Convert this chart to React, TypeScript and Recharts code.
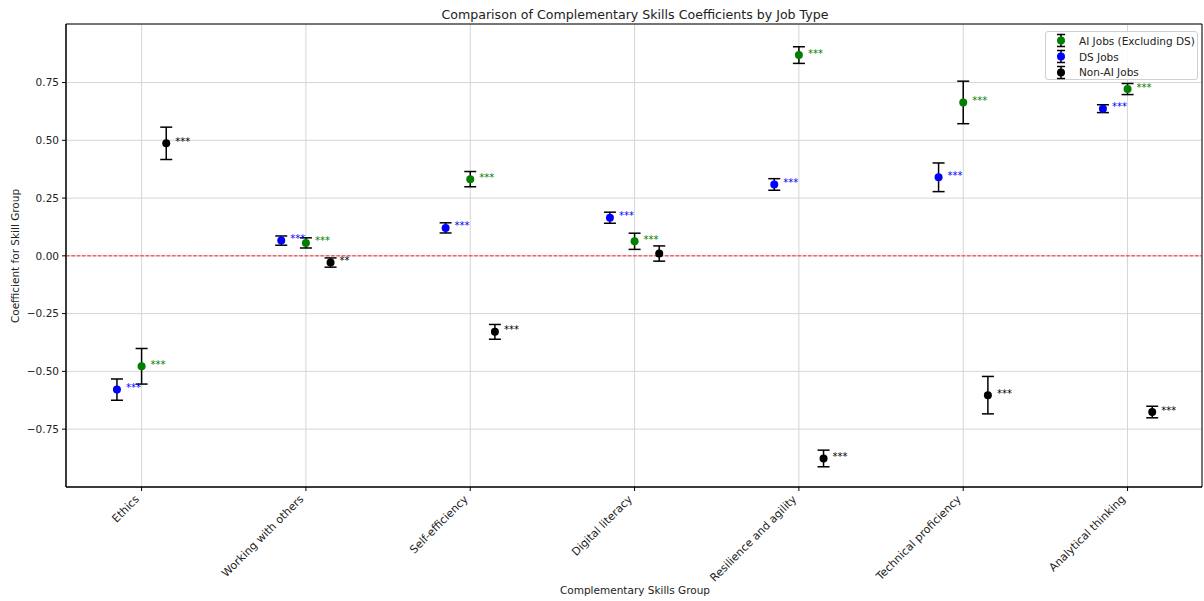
import {
  ScatterChart,
  Scatter,
  ErrorBar,
  XAxis,
  YAxis,
  CartesianGrid,
  ReferenceLine,
  ReferenceArea,
  Legend,
} from 'recharts';

const categories = [
  'Ethics',
  'Working with others',
  'Self-efficiency',
  'Digital literacy',
  'Resilience and agility',
  'Technical proficiency',
  'Analytical thinking',
];

// AI jobs (excluding DS)
const aiCoef = [-0.478, 0.056, 0.332, 0.063, 0.869, 0.664, 0.722];
const aiErr = [0.077, 0.022, 0.033, 0.035, 0.036, 0.092, 0.024];
const aiSig = ['***', '***', '***', '***', '***', '***', '***'];

// DS jobs
const dsCoef = [-0.579, 0.066, 0.121, 0.165, 0.309, 0.34, 0.637];
const dsErr = [0.046, 0.02, 0.022, 0.024, 0.025, 0.062, 0.017];
const dsSig = ['***', '***', '***', '***', '***', '***', '***'];

// Non-AI jobs
const nonAiCoef = [0.487, -0.029, -0.329, 0.01, -0.877, -0.603, -0.676];
const nonAiErr = [0.07, 0.02, 0.032, 0.033, 0.036, 0.081, 0.025];
const nonAiSig = ['***', '**', '***', '', '***', '***', '***'];

const yTicks = [-0.75, -0.5, -0.25, 0, 0.25, 0.5, 0.75];
const xTicks = categories.map((_, i) => i);

const X_DOMAIN: [number, number] = [-0.46, 6.453];
const Y_DOMAIN: [number, number] = [-1.0005, 1.0035];
const OFFSET = 0.15;

const build = (coef: number[], err: number[], sig: string[], shift: number) =>
  coef.map((y, i) => ({ x: i + shift, y, err: err[i], sig: sig[i] }));

const series = [
  { name: 'AI Jobs (Excluding DS)', color: '#008000', data: build(aiCoef, aiErr, aiSig, 0) },
  { name: 'DS Jobs', color: '#0000ff', data: build(dsCoef, dsErr, dsSig, -OFFSET) },
  { name: 'Non-AI Jobs', color: '#000000', data: build(nonAiCoef, nonAiErr, nonAiSig, OFFSET) },
];

const FONT = '"DejaVu Sans", sans-serif';

const CategoryTick = (props: any) => {
  const { x, y, payload } = props;
  const ax = x - 1.7;
  const ay = y + 6.8;
  return (
    <text
      x={ax}
      y={ay}
      transform={`rotate(-45 ${ax} ${ay})`}
      textAnchor="end"
      fontSize={11}
      fill="#222"
      fontFamily={FONT}
    >
      {categories[payload.value]}
    </text>
  );
};

const makeShape = (color: string) => (props: any) => {
  const { cx, cy, payload } = props;
  return (
    <g>
      <circle cx={cx} cy={cy} r={4} fill={color} />
      {payload.sig && (
        <text x={cx + 9} y={cy + 1.5} fontSize={10} fill={color} fontFamily={FONT}>
          {payload.sig}
        </text>
      )}
    </g>
  );
};

const LegendBox = () => (
  <div
    style={{
      width: 153,
      height: 49,
      boxSizing: 'border-box',
      border: '1px solid #d0d0d0',
      borderRadius: 3,
      background: 'rgba(255,255,255,0.85)',
      fontFamily: FONT,
      fontSize: 10.5,
      color: '#222',
      paddingTop: 1,
    }}
  >
    {series.map((s) => (
      <div key={s.name} style={{ display: 'flex', alignItems: 'center', height: 15.7 }}>
        <svg width={31} height={15} style={{ flexShrink: 0 }}>
          <line x1={15} x2={15} y1={1.5} y2={13.5} stroke="#000" strokeWidth={1.5} />
          <line x1={11} x2={19} y1={1.5} y2={1.5} stroke="#000" strokeWidth={1.5} />
          <line x1={11} x2={19} y1={13.5} y2={13.5} stroke="#000" strokeWidth={1.5} />
          <circle cx={15} cy={7.5} r={4} fill={s.color} />
        </svg>
        <span style={{ marginLeft: 2, whiteSpace: 'nowrap' }}>{s.name}</span>
      </div>
    ))}
  </div>
);

export default function App() {
  return (
    <div style={{ position: 'relative', width: 1204, height: 601, background: '#fff' }}>
      <style>{'body{margin:0;}'}</style>
      <ScatterChart
        width={1204}
        height={601}
        margin={{ top: 24, right: 2, bottom: 14, left: 0 }}
        style={{ fontFamily: FONT }}
      >
        <CartesianGrid stroke="#d6d6d6" strokeWidth={1} />
        <XAxis
          type="number"
          dataKey="x"
          domain={X_DOMAIN}
          ticks={xTicks}
          interval={0}
          allowDataOverflow
          height={100}
          tickSize={4}
          tickMargin={2}
          stroke="#000"
          tick={<CategoryTick />}
        />
        <YAxis
          type="number"
          dataKey="y"
          domain={Y_DOMAIN}
          ticks={yTicks}
          interval={0}
          allowDataOverflow
          width={66}
          tickSize={4}
          tickMargin={3}
          stroke="#000"
          tick={{ fontSize: 10.5, fill: '#222', fontFamily: FONT }}
          tickFormatter={(v: number) => v.toFixed(2).replace('-', '\u2212')}
        />
        <ReferenceLine y={0} stroke="#ff2020" strokeDasharray="3.7 1.6" strokeWidth={1} />
        <ReferenceArea
          x1={X_DOMAIN[0]}
          x2={X_DOMAIN[1]}
          y1={Y_DOMAIN[0]}
          y2={Y_DOMAIN[1]}
          fill="none"
          stroke="#000"
          strokeWidth={1}
          ifOverflow="visible"
        />
        {series.map((s) => (
          <Scatter
            key={s.name}
            name={s.name}
            data={s.data}
            fill={s.color}
            shape={makeShape(s.color)}
            isAnimationActive={false}
          >
            <ErrorBar dataKey="err" direction="y" width={6} stroke="#000" strokeWidth={1.5} />
          </Scatter>
        ))}
        <Legend
          layout="vertical"
          align="center"
          verticalAlign="middle"
          wrapperStyle={{ top: 31, left: 1045, width: 153, height: 49 }}
          content={<LegendBox />}
        />
      </ScatterChart>
      <svg
        width={1204}
        height={601}
        style={{ position: 'absolute', left: 0, top: 0, pointerEvents: 'none' }}
      >
        <text x={635} y={19} textAnchor="middle" fontSize={12.6} fill="#222" fontFamily={FONT}>
          Comparison of Complementary Skills Coefficients by Job Type
        </text>
        <text
          x={19}
          y={256}
          textAnchor="middle"
          fontSize={10.5}
          fill="#222"
          fontFamily={FONT}
          transform="rotate(-90 19 256)"
        >
          Coefficient for Skill Group
        </text>
        <text x={635} y={594} textAnchor="middle" fontSize={10.5} fill="#222" fontFamily={FONT}>
          Complementary Skills Group
        </text>
      </svg>
    </div>
  );
}
